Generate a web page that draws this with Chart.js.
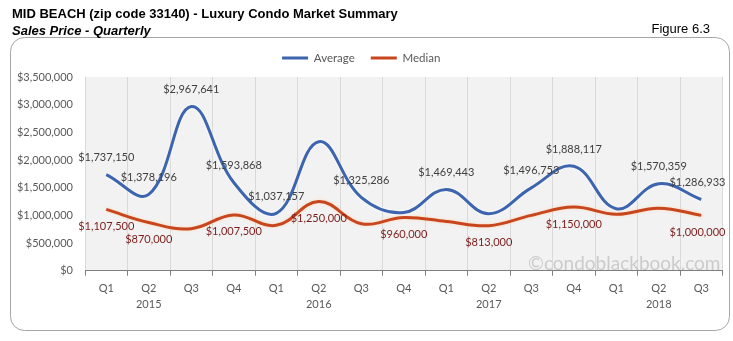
<!DOCTYPE html>
<html>
<head>
<meta charset="utf-8">
<script src="https://cdn.jsdelivr.net/npm/chart.js@4/dist/chart.umd.min.js"></script>
<style>
  html, body { margin: 0; padding: 0; background: #fff; }
  #wrap { width: 733px; height: 341px; }
</style>
</head>
<body>
<div id="wrap"><canvas id="salesChart" width="733" height="341"></canvas></div>
<script>
const titleText = 'MID BEACH (zip code 33140) - Luxury Condo Market Summary';
const subtitleText = 'Sales Price - Quarterly';
const figureText = 'Figure 6.3';
const watermarkText = '\u00A9condoblackbook.com';

const quarters = ['Q1', 'Q2', 'Q3', 'Q4', 'Q1', 'Q2', 'Q3', 'Q4', 'Q1', 'Q2', 'Q3', 'Q4', 'Q1', 'Q2', 'Q3'];
const years = ['', '2015', '', '', '', '2016', '', '', '', '2017', '', '', '', '2018', ''];

const averagePrice = [1737150, 1378196, 2967641, 1593868, 1037157, 2330000, 1325286, 1050000,
  1469443, 1030000, 1496753, 1888117, 1120000, 1570359, 1286933];
const medianPrice = [1107500, 870000, 760000, 1007500, 820000, 1250000, 850000, 960000,
  890000, 813000, 1000000, 1150000, 1020000, 1130000, 1000000];

// which points carry a value label
const averageLabelled = [1, 1, 1, 1, 1, 0, 1, 0, 1, 0, 1, 1, 0, 1, 1];
const medianLabelled = [1, 1, 0, 1, 0, 1, 0, 1, 0, 1, 0, 1, 0, 0, 1];

const yTicks = [0, 500000, 1000000, 1500000, 2000000, 2500000, 3000000, 3500000];

const labels = quarters.map((q, i) => years[i] ? [q, years[i]] : [q]);
const money = v => '$' + v.toLocaleString('en-US');

const LABEL_FONT = '11px Lato, "Open Sans", sans-serif';

const backdrop = {
  id: 'backdrop',
  beforeDraw(chart) {
    const { ctx, chartArea: a } = chart;
    ctx.save();
    ctx.fillStyle = '#fff';
    ctx.fillRect(0, 0, chart.width, chart.height);
    ctx.beginPath();
    ctx.roundRect(10.5, 37.5, 719, 293, 14);
    ctx.strokeStyle = '#a6a6a6';
    ctx.lineWidth = 1;
    ctx.stroke();
    ctx.fillStyle = '#f2f2f2';
    ctx.fillRect(a.left, a.top, a.right - a.left, a.bottom - a.top);

    ctx.fillStyle = '#000';
    ctx.textBaseline = 'alphabetic';
    ctx.font = 'bold 13px "Liberation Sans", Arial, sans-serif';
    ctx.fillText(titleText, 12, 18);
    ctx.font = 'italic bold 13px "Liberation Sans", Arial, sans-serif';
    ctx.fillText(subtitleText, 12, 35);
    ctx.font = '13px "Liberation Sans", Arial, sans-serif';
    ctx.textAlign = 'right';
    ctx.fillText(figureText, 710, 33);
    ctx.restore();
  },
  beforeDatasetsDraw(chart) {
    const { ctx, chartArea: a } = chart;
    ctx.save();
    ctx.font = '19px Lato, "Open Sans", sans-serif';
    ctx.fillStyle = 'rgba(190,190,190,0.75)';
    ctx.textAlign = 'right';
    ctx.textBaseline = 'alphabetic';
    ctx.fillText(watermarkText, a.right - 2, a.bottom - 1);
    ctx.restore();
  }
};

// a little extra room between the legend and the plot
const legendGap = {
  id: 'legendGap',
  beforeInit(chart) {
    const fit = chart.legend.fit;
    chart.legend.fit = function () {
      fit.call(this);
      this.height += 3.25;
    };
  }
};

const lineGlow = {
  id: 'lineGlow',
  beforeDatasetDraw(chart, args) {
    const ctx = chart.ctx;
    ctx.save();
    ctx.shadowColor = args.index === 0 ? 'rgba(255,255,255,0.9)' : 'rgba(255,214,180,0.9)';
    ctx.shadowBlur = 3;
  },
  afterDatasetDraw(chart) {
    chart.ctx.restore();
  }
};

const valueLabels = {
  id: 'valueLabels',
  afterDatasetsDraw(chart) {
    const { ctx, chartArea: a } = chart;
    const setup = [
      { flags: averageLabelled, shift: -17, color: '#404040' },
      { flags: medianLabelled, shift: 17, color: '#7b1c1c' }
    ];
    ctx.save();
    ctx.font = LABEL_FONT;
    ctx.textAlign = 'center';
    ctx.textBaseline = 'middle';
    setup.forEach((s, di) => {
      const meta = chart.getDatasetMeta(di);
      const values = chart.data.datasets[di].data;
      ctx.fillStyle = s.color;
      meta.data.forEach((pt, i) => {
        if (!s.flags[i]) return;
        const text = money(values[i]);
        const w = ctx.measureText(text).width;
        const x = Math.min(pt.x, a.right + 3 - w / 2);
        ctx.fillText(text, x, pt.y + s.shift);
      });
    });
    ctx.restore();
  }
};

new Chart(document.getElementById('salesChart'), {
  type: 'line',
  data: {
    labels: labels,
    datasets: [
      {
        label: 'Average',
        data: averagePrice,
        borderColor: '#3d64ae',
        backgroundColor: '#3d64ae',
        borderWidth: 3,
        pointRadius: 0,
        tension: 0.4,
        fill: false
      },
      {
        label: 'Median',
        data: medianPrice,
        borderColor: '#c8461e',
        backgroundColor: '#c8461e',
        borderWidth: 3,
        pointRadius: 0,
        tension: 0.4,
        fill: false
      }
    ]
  },
  options: {
    responsive: false,
    animation: false,
    devicePixelRatio: 1,
    layout: { padding: { top: 36.25, left: 0, right: 10.5, bottom: 0 } },
    plugins: {
      title: { display: false },
      tooltip: { enabled: false },
      legend: {
        position: 'top',
        labels: {
          usePointStyle: true,
          pointStyle: 'line',
          pointStyleWidth: 26,
          padding: 16,
          color: '#595959',
          font: { family: 'Lato, "Open Sans", sans-serif', size: 11.5 }
        }
      }
    },
    scales: {
      x: {
        offset: true,
        grid: {
          offset: true,
          color: '#d9d9d9',
          tickColor: '#7f7f7f',
          tickLength: 5
        },
        border: { display: true, color: '#7f7f7f' },
        ticks: {
          color: '#595959',
          padding: 5,
          maxRotation: 0,
          autoSkip: false,
          font: { family: 'Lato, "Open Sans", sans-serif', size: 11, lineHeight: '16px' }
        },
        afterFit(scale) { scale.height = 70.3; }
      },
      y: {
        min: 0,
        max: 3500000,
        afterBuildTicks(scale) { scale.ticks = yTicks.map(v => ({ value: v })); },
        grid: { display: false, drawTicks: false },
        border: { display: false },
        ticks: {
          color: '#595959',
          padding: 12,
          font: { family: 'Lato, "Open Sans", sans-serif', size: 11 },
          callback: v => money(v)
        },
        afterFit(scale) { scale.width = 85; }
      }
    }
  },
  plugins: [backdrop, legendGap, lineGlow, valueLabels]
});
</script>
</body>
</html>
